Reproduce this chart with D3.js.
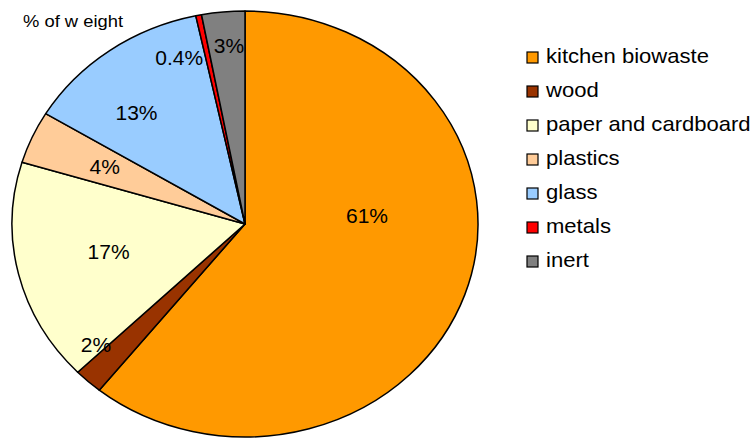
<!DOCTYPE html>
<html>
<head>
<meta charset="utf-8">
<script src="https://cdn.jsdelivr.net/npm/d3@7"></script>
<style>
  body { margin: 0; background: #fff; }
  text { font-family: "Liberation Sans", Arial, sans-serif; fill: #000; }
</style>
</head>
<body>
<div id="chart-area"></div>
<script>
// waste composition, % of weight
var categories = ["kitchen biowaste", "wood", "paper and cardboard", "plastics", "glass", "metals", "inert"];
var values = [61, 2, 17, 4, 13, 0.4, 3];
var valueLabels = ["61%", "2%", "17%", "4%", "13%", "0.4%", "3%"];
var colors = ["#FF9900", "#993300", "#FFFFCC", "#FFCC99", "#99CCFF", "#FF0000", "#808080"];

// label placement tweaks (angle shift in degrees, radius fraction), like excel's best fit
var labelAngleShift = [-23.5, 6.1, 1.0, 0.2, -6.2, -8.4, 0.7];
var labelRadius = [0.525, 0.855, 0.6, 0.66, 0.7, 0.83, 0.84];

var width = 753;
var height = 439;
var cx = 245, cy = 224;
var rx = 233, ry = 213;

var svg = d3.select("#chart-area").append("svg")
    .attr("width", width).attr("height", height);

svg.append("text").attr("x", 23).attr("y", 27).attr("font-size", "17px")
    .attr("transform", "translate(23,0) scale(1.08,1) translate(-23,0)")
    .text("% of w eight");

var pie = d3.pie().sort(null).value(function(d) { return d; });
var arcs = pie(values);
var arc = d3.arc().innerRadius(0).outerRadius(rx);

var pieGroup = svg.append("g")
    .attr("transform", "translate(" + cx + "," + cy + ") scale(1," + (ry / rx) + ")");

pieGroup.selectAll("path").data(arcs).enter().append("path")
    .attr("d", arc)
    .attr("fill", function(d, i) { return colors[i]; })
    .attr("stroke", "#000")
    .attr("stroke-width", 1.5)
    .attr("vector-effect", "non-scaling-stroke")
    .attr("stroke-linejoin", "round");

svg.selectAll(".slice-label").data(arcs).enter().append("text")
    .attr("class", "slice-label")
    .attr("font-size", "21px")
    .attr("text-anchor", "middle")
    .attr("dominant-baseline", "central")
    .attr("x", function(d, i) {
        var a = (d.startAngle + d.endAngle) / 2 + labelAngleShift[i] * Math.PI / 180;
        return cx + Math.sin(a) * rx * labelRadius[i];
    })
    .attr("y", function(d, i) {
        var a = (d.startAngle + d.endAngle) / 2 + labelAngleShift[i] * Math.PI / 180;
        return cy - Math.cos(a) * ry * labelRadius[i];
    })
    .text(function(d, i) { return valueLabels[i]; });

var legend = svg.append("g").attr("transform", "translate(527, 52)");
categories.forEach(function(c, i) {
    var row = legend.append("g").attr("transform", "translate(0," + (i * 34) + ")");
    row.append("rect").attr("width", 11).attr("height", 11)
        .attr("fill", colors[i]).attr("stroke", "#000").attr("stroke-width", 1.2);
    row.append("text").attr("transform", "translate(19,10.5) scale(1.05,1)")
        .attr("font-size", "21px").text(c);
});
</script>
</body>
</html>
